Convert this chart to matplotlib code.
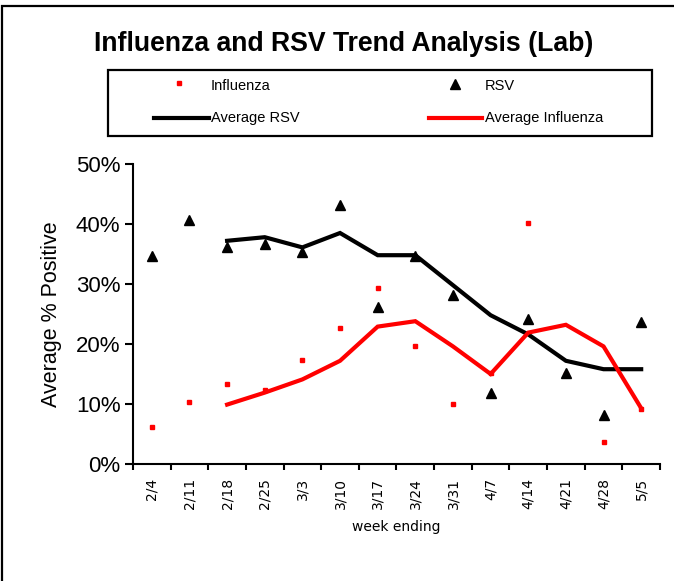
import numpy as np
import matplotlib
matplotlib.use("Agg")
import matplotlib.pyplot as plt
from matplotlib.patches import Rectangle
from matplotlib.lines import Line2D
from matplotlib.ticker import FuncFormatter

# week ending labels
weeks = ['2/4', '2/11', '2/18', '2/25', '3/3', '3/10', '3/17', '3/24',
         '3/31', '4/7', '4/14', '4/21', '4/28', '5/5']

# percent positive
influenza = [6.1, 10.3, 13.3, 12.3, 17.3, 22.6, 29.3, 19.7, 10.0, 15.2, 40.2, 15.0, 3.7, 9.1]
rsv = [34.7, 40.7, 36.1, 36.6, 35.4, 43.1, 26.1, 34.7, 28.1, 11.8, 24.1, 15.1, 8.2, 23.7]
# 3-week averages start at 2/18
avg_rsv = [np.nan, np.nan, 37.2, 37.8, 36.1, 38.5, 34.8, 34.8, 29.8, 24.8, 21.6, 17.2, 15.8, 15.8]
avg_influenza = [np.nan, np.nan, 9.9, 11.9, 14.1, 17.2, 22.9, 23.8, 19.6, 15.0, 21.9, 23.2, 19.6, 9.3]

plt.rcParams['font.family'] = ['Liberation Sans', 'DejaVu Sans']

W, H = 674, 581
fig = plt.figure(figsize=(W / 100, H / 100), dpi=100)
ax = fig.add_axes([133 / W, (H - 464) / H, (660 - 133) / W, (464 - 164) / H])

x = np.arange(len(weeks))
ax.plot(x, influenza, ls='none', marker='s', ms=2.6, color='red', mec='red', zorder=2)
ax.plot(x, rsv, ls='none', marker='^', ms=7.5, color='black', zorder=3)
ax.plot(x, avg_rsv, color='black', lw=3, solid_joinstyle='miter', zorder=4)
ax.plot(x, avg_influenza, color='red', lw=3, solid_joinstyle='miter', zorder=5)

ax.set_xlim(-0.5, len(weeks) - 0.5)
ax.set_ylim(0, 50)
ax.set_yticks(np.arange(0, 51, 10))
ax.yaxis.set_major_formatter(FuncFormatter(lambda v, p: '%d%%' % v))
ax.tick_params(axis='y', labelsize=16, length=6, width=1.5, pad=3)

ax.set_xticks(x)
ax.set_xticklabels(weeks, rotation=90, fontsize=10, family='DejaVu Sans')
ax.set_xticks(np.arange(-0.5, len(weeks)), minor=True)
ax.tick_params(axis='x', which='major', length=0, pad=10)
ax.tick_params(axis='x', which='minor', length=4, width=1.5, direction='out')

for s in ['top', 'right']:
    ax.spines[s].set_visible(False)
for s in ['left', 'bottom']:
    ax.spines[s].set_linewidth(1.5)

ax.set_ylabel('Average % Positive', fontsize=15.5, labelpad=10)
ax.set_xlabel('week ending', fontsize=10, family='DejaVu Sans', labelpad=8)

fig.text(344 / W, 1 - 44 / H, 'Influenza and RSV Trend Analysis (Lab)',
         ha='center', va='center', fontsize=19.2, fontweight='bold')

# chart border and legend box
fig.patches.append(Rectangle((2 / W, -0.1), 1.2, 1 - 6 / H + 0.1, transform=fig.transFigure,
                             fill=False, ec='black', lw=1.6))
fig.patches.append(Rectangle((108 / W, 1 - 136 / H), (652 - 108) / W, (136 - 70) / H,
                             transform=fig.transFigure, fill=False, ec='black', lw=1.6))

def fx(px):
    return px / W

def fy(py):
    return 1 - py / H

fig.lines.append(Line2D([fx(179)], [fy(83)], marker='s', ms=2.6, color='red', transform=fig.transFigure))
fig.lines.append(Line2D([fx(455)], [fy(84)], marker='^', ms=7, color='black', transform=fig.transFigure))
fig.lines.append(Line2D([fx(154), fx(209)], [fy(118), fy(118)], lw=3, color='black', transform=fig.transFigure))
fig.lines.append(Line2D([fx(429), fx(482)], [fy(118), fy(118)], lw=3, color='red', transform=fig.transFigure))
for px, py, t in [(211, 86, 'Influenza'), (485, 86, 'RSV'),
                  (211, 118, 'Average RSV'), (485, 118, 'Average Influenza')]:
    fig.text(fx(px), fy(py), t, ha='left', va='center', fontsize=10.5)

fig.savefig('out.png', dpi=100)
